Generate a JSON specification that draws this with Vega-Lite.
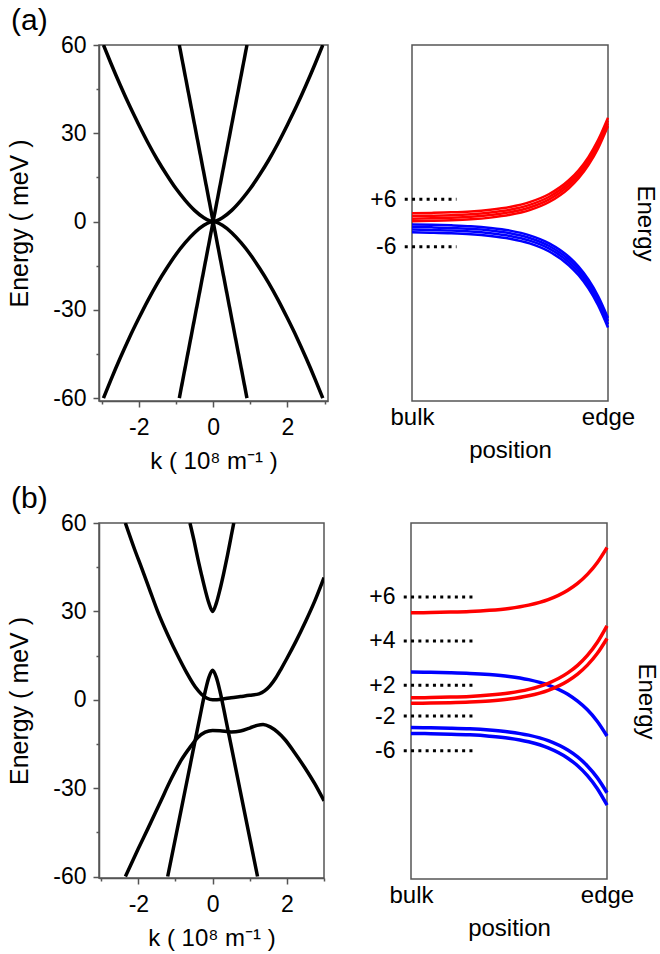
{
  "$schema": "https://vega.github.io/schema/vega-lite/v6.json",
  "padding": {"left": 7, "top": 6, "right": 12, "bottom": 0},
  "background": "white",
  "config": {
    "font": "Liberation Sans",
    "view": {"stroke": "#555", "strokeWidth": 1.5},
    "axis": {"labelFont": "Liberation Sans", "titleFont": "Liberation Sans", "labelFontSize": 23, "titleFontSize": 24, "titleFontWeight": "normal", "labelColor": "#000", "titleColor": "#000", "domainColor": "#555", "domainWidth": 1.5, "tickColor": "#555", "tickWidth": 1.5, "grid": false, "labelOverlap": false},
    "title": {"font": "Liberation Sans", "fontSize": 30, "fontWeight": "normal", "anchor": "start", "color": "#000"}
  },
  "datasets": {
    "aL": [
      {"c":"up","k":-2.95,"E":60},{"c":"up","k":-2.75,"E":53.8},{"c":"up","k":-2.5,"E":46.4},{"c":"up","k":-2.25,"E":39.4},{"c":"up","k":-2,"E":32.9},{"c":"up","k":-1.75,"E":26.7},{"c":"up","k":-1.5,"E":21},{"c":"up","k":-1.25,"E":15.9},{"c":"up","k":-1,"E":11.2},{"c":"up","k":-0.75,"E":7.2},{"c":"up","k":-0.5,"E":3.8},{"c":"up","k":-0.25,"E":1.3},{"c":"up","k":-0.1,"E":0.3},{"c":"up","k":0,"E":0},{"c":"up","k":0.1,"E":0.3},{"c":"up","k":0.25,"E":1.3},{"c":"up","k":0.5,"E":3.8},{"c":"up","k":0.75,"E":7.2},{"c":"up","k":1,"E":11.2},{"c":"up","k":1.25,"E":15.9},{"c":"up","k":1.5,"E":21},{"c":"up","k":1.75,"E":26.7},{"c":"up","k":2,"E":32.9},{"c":"up","k":2.25,"E":39.4},{"c":"up","k":2.5,"E":46.4},{"c":"up","k":2.75,"E":53.8},{"c":"up","k":2.95,"E":60},
      {"c":"dn","k":-2.95,"E":-60},{"c":"dn","k":-2.75,"E":-53.8},{"c":"dn","k":-2.5,"E":-46.4},{"c":"dn","k":-2.25,"E":-39.4},{"c":"dn","k":-2,"E":-32.9},{"c":"dn","k":-1.75,"E":-26.7},{"c":"dn","k":-1.5,"E":-21},{"c":"dn","k":-1.25,"E":-15.9},{"c":"dn","k":-1,"E":-11.2},{"c":"dn","k":-0.75,"E":-7.2},{"c":"dn","k":-0.5,"E":-3.8},{"c":"dn","k":-0.25,"E":-1.3},{"c":"dn","k":-0.1,"E":-0.3},{"c":"dn","k":0,"E":0},{"c":"dn","k":0.1,"E":-0.3},{"c":"dn","k":0.25,"E":-1.3},{"c":"dn","k":0.5,"E":-3.8},{"c":"dn","k":0.75,"E":-7.2},{"c":"dn","k":1,"E":-11.2},{"c":"dn","k":1.25,"E":-15.9},{"c":"dn","k":1.5,"E":-21},{"c":"dn","k":1.75,"E":-26.7},{"c":"dn","k":2,"E":-32.9},{"c":"dn","k":2.25,"E":-39.4},{"c":"dn","k":2.5,"E":-46.4},{"c":"dn","k":2.75,"E":-53.8},{"c":"dn","k":2.95,"E":-60},
      {"c":"l1","k":-0.91,"E":60},{"c":"l1","k":0.91,"E":-60},
      {"c":"l2","k":-0.91,"E":-60},{"c":"l2","k":0.91,"E":60}
    ],
    "bL": [
      {"c":"c1","k":-0.61,"E":60},{"c":"c1","k":-0.5,"E":54},{"c":"c1","k":-0.4,"E":48},{"c":"c1","k":-0.3,"E":42.5},{"c":"c1","k":-0.2,"E":37.3},{"c":"c1","k":-0.1,"E":32.8},{"c":"c1","k":0,"E":30},{"c":"c1","k":0.1,"E":32.8},{"c":"c1","k":0.2,"E":37.5},{"c":"c1","k":0.3,"E":43},{"c":"c1","k":0.4,"E":49},{"c":"c1","k":0.5,"E":55.5},{"c":"c1","k":0.57,"E":60},
      {"c":"c2","k":-2.35,"E":60},{"c":"c2","k":-2.1,"E":51},{"c":"c2","k":-1.92,"E":45},{"c":"c2","k":-1.7,"E":37.5},{"c":"c2","k":-1.48,"E":30},{"c":"c2","k":-1.2,"E":21.8},{"c":"c2","k":-0.9,"E":14},{"c":"c2","k":-0.7,"E":9.2},{"c":"c2","k":-0.47,"E":4.4},{"c":"c2","k":-0.3,"E":1.9},{"c":"c2","k":-0.15,"E":0.5},{"c":"c2","k":0,"E":0},{"c":"c2","k":0.25,"E":0.2},{"c":"c2","k":0.5,"E":0.7},{"c":"c2","k":0.75,"E":1.1},{"c":"c2","k":1.0,"E":1.5},{"c":"c2","k":1.25,"E":2.0},{"c":"c2","k":1.4,"E":3.0},{"c":"c2","k":1.55,"E":4.8},{"c":"c2","k":1.7,"E":7.4},{"c":"c2","k":1.85,"E":10.6},{"c":"c2","k":2.0,"E":14},{"c":"c2","k":2.25,"E":20},{"c":"c2","k":2.5,"E":26.5},{"c":"c2","k":2.75,"E":33.5},{"c":"c2","k":3.0,"E":41.5},
      {"c":"c3","k":-1.21,"E":-60},{"c":"c3","k":-0.9,"E":-40.7},{"c":"c3","k":-0.6,"E":-21.9},{"c":"c3","k":-0.35,"E":-6.3},{"c":"c3","k":-0.2,"E":2.8},{"c":"c3","k":-0.1,"E":7.6},{"c":"c3","k":0,"E":10},{"c":"c3","k":0.1,"E":7.6},{"c":"c3","k":0.2,"E":2.8},{"c":"c3","k":0.35,"E":-6.3},{"c":"c3","k":0.6,"E":-21.9},{"c":"c3","k":0.9,"E":-40.7},{"c":"c3","k":1.21,"E":-60},
      {"c":"c4","k":-2.35,"E":-60},{"c":"c4","k":-2.0,"E":-50.5},{"c":"c4","k":-1.73,"E":-43.4},{"c":"c4","k":-1.4,"E":-34.5},{"c":"c4","k":-1.1,"E":-26.5},{"c":"c4","k":-0.85,"E":-20.6},{"c":"c4","k":-0.6,"E":-16},{"c":"c4","k":-0.4,"E":-12.8},{"c":"c4","k":-0.2,"E":-11},{"c":"c4","k":0,"E":-10.4},{"c":"c4","k":0.2,"E":-10.5},{"c":"c4","k":0.5,"E":-10.9},{"c":"c4","k":0.75,"E":-10.6},{"c":"c4","k":1.0,"E":-9.6},{"c":"c4","k":1.2,"E":-8.7},{"c":"c4","k":1.36,"E":-8.4},{"c":"c4","k":1.55,"E":-9.2},{"c":"c4","k":1.75,"E":-11},{"c":"c4","k":1.94,"E":-13.4},{"c":"c4","k":2.2,"E":-17.8},{"c":"c4","k":2.48,"E":-23},{"c":"c4","k":2.75,"E":-28.5},{"c":"c4","k":3.0,"E":-34.3}
    ],
    "aR": [
      {"c":"b1","band":"valence","x":0,"E":-0.35},{"c":"b1","band":"valence","x":0.1,"E":-0.44},{"c":"b1","band":"valence","x":0.2,"E":-0.59},{"c":"b1","band":"valence","x":0.3,"E":-0.82},{"c":"b1","band":"valence","x":0.4,"E":-1.25},{"c":"b1","band":"valence","x":0.5,"E":-1.93},{"c":"b1","band":"valence","x":0.6,"E":-3.12},{"c":"b1","band":"valence","x":0.7,"E":-5.13},{"c":"b1","band":"valence","x":0.8,"E":-8.53},{"c":"b1","band":"valence","x":0.85,"E":-11.02},{"c":"b1","band":"valence","x":0.9,"E":-14.28},{"c":"b1","band":"valence","x":0.95,"E":-18.51},{"c":"b1","band":"valence","x":1,"E":-24.0},
      {"c":"b2","band":"valence","x":0,"E":-1.0},{"c":"b2","band":"valence","x":0.1,"E":-1.1},{"c":"b2","band":"valence","x":0.2,"E":-1.24},{"c":"b2","band":"valence","x":0.3,"E":-1.48},{"c":"b2","band":"valence","x":0.4,"E":-1.9},{"c":"b2","band":"valence","x":0.5,"E":-2.59},{"c":"b2","band":"valence","x":0.6,"E":-3.78},{"c":"b2","band":"valence","x":0.7,"E":-5.81},{"c":"b2","band":"valence","x":0.8,"E":-9.23},{"c":"b2","band":"valence","x":0.85,"E":-11.73},{"c":"b2","band":"valence","x":0.9,"E":-15.02},{"c":"b2","band":"valence","x":0.95,"E":-19.28},{"c":"b2","band":"valence","x":1,"E":-24.8},
      {"c":"b3","band":"valence","x":0,"E":-1.67},{"c":"b3","band":"valence","x":0.1,"E":-1.77},{"c":"b3","band":"valence","x":0.2,"E":-1.91},{"c":"b3","band":"valence","x":0.3,"E":-2.15},{"c":"b3","band":"valence","x":0.4,"E":-2.58},{"c":"b3","band":"valence","x":0.5,"E":-3.27},{"c":"b3","band":"valence","x":0.6,"E":-4.47},{"c":"b3","band":"valence","x":0.7,"E":-6.5},{"c":"b3","band":"valence","x":0.8,"E":-9.95},{"c":"b3","band":"valence","x":0.85,"E":-12.46},{"c":"b3","band":"valence","x":0.9,"E":-15.76},{"c":"b3","band":"valence","x":0.95,"E":-20.05},{"c":"b3","band":"valence","x":1,"E":-25.6},
      {"c":"b4","band":"valence","x":0,"E":-2.35},{"c":"b4","band":"valence","x":0.1,"E":-2.45},{"c":"b4","band":"valence","x":0.2,"E":-2.59},{"c":"b4","band":"valence","x":0.3,"E":-2.83},{"c":"b4","band":"valence","x":0.4,"E":-3.26},{"c":"b4","band":"valence","x":0.5,"E":-3.96},{"c":"b4","band":"valence","x":0.6,"E":-5.16},{"c":"b4","band":"valence","x":0.7,"E":-7.21},{"c":"b4","band":"valence","x":0.8,"E":-10.67},{"c":"b4","band":"valence","x":0.85,"E":-13.2},{"c":"b4","band":"valence","x":0.9,"E":-16.52},{"c":"b4","band":"valence","x":0.95,"E":-20.82},{"c":"b4","band":"valence","x":1,"E":-26.4},
      {"c":"r1","band":"conduction","x":0,"E":2.45},{"c":"r1","band":"conduction","x":0.1,"E":2.55},{"c":"r1","band":"conduction","x":0.2,"E":2.69},{"c":"r1","band":"conduction","x":0.3,"E":2.93},{"c":"r1","band":"conduction","x":0.4,"E":3.37},{"c":"r1","band":"conduction","x":0.5,"E":4.07},{"c":"r1","band":"conduction","x":0.6,"E":5.28},{"c":"r1","band":"conduction","x":0.7,"E":7.33},{"c":"r1","band":"conduction","x":0.8,"E":10.81},{"c":"r1","band":"conduction","x":0.85,"E":13.34},{"c":"r1","band":"conduction","x":0.9,"E":16.67},{"c":"r1","band":"conduction","x":0.95,"E":21.0},{"c":"r1","band":"conduction","x":1,"E":26.6},
      {"c":"r2","band":"conduction","x":0,"E":1.75},{"c":"r2","band":"conduction","x":0.1,"E":1.85},{"c":"r2","band":"conduction","x":0.2,"E":1.99},{"c":"r2","band":"conduction","x":0.3,"E":2.23},{"c":"r2","band":"conduction","x":0.4,"E":2.67},{"c":"r2","band":"conduction","x":0.5,"E":3.37},{"c":"r2","band":"conduction","x":0.6,"E":4.58},{"c":"r2","band":"conduction","x":0.7,"E":6.63},{"c":"r2","band":"conduction","x":0.8,"E":10.11},{"c":"r2","band":"conduction","x":0.85,"E":12.64},{"c":"r2","band":"conduction","x":0.9,"E":15.97},{"c":"r2","band":"conduction","x":0.95,"E":20.3},{"c":"r2","band":"conduction","x":1,"E":25.9},
      {"c":"r3","band":"conduction","x":0,"E":1.1},{"c":"r3","band":"conduction","x":0.1,"E":1.2},{"c":"r3","band":"conduction","x":0.2,"E":1.34},{"c":"r3","band":"conduction","x":0.3,"E":1.58},{"c":"r3","band":"conduction","x":0.4,"E":2.02},{"c":"r3","band":"conduction","x":0.5,"E":2.71},{"c":"r3","band":"conduction","x":0.6,"E":3.92},{"c":"r3","band":"conduction","x":0.7,"E":5.97},{"c":"r3","band":"conduction","x":0.8,"E":9.44},{"c":"r3","band":"conduction","x":0.85,"E":11.97},{"c":"r3","band":"conduction","x":0.9,"E":15.29},{"c":"r3","band":"conduction","x":0.95,"E":19.61},{"c":"r3","band":"conduction","x":1,"E":25.2},
      {"c":"r4","band":"conduction","x":0,"E":0.45},{"c":"r4","band":"conduction","x":0.1,"E":0.55},{"c":"r4","band":"conduction","x":0.2,"E":0.69},{"c":"r4","band":"conduction","x":0.3,"E":0.93},{"c":"r4","band":"conduction","x":0.4,"E":1.36},{"c":"r4","band":"conduction","x":0.5,"E":2.06},{"c":"r4","band":"conduction","x":0.6,"E":3.26},{"c":"r4","band":"conduction","x":0.7,"E":5.31},{"c":"r4","band":"conduction","x":0.8,"E":8.77},{"c":"r4","band":"conduction","x":0.85,"E":11.3},{"c":"r4","band":"conduction","x":0.9,"E":14.62},{"c":"r4","band":"conduction","x":0.95,"E":18.92},{"c":"r4","band":"conduction","x":1,"E":24.5}
    ],
    "bR": [
      {"c":"b1","band":"valence","x":0,"E":7.3},{"c":"b1","band":"valence","x":0.1,"E":7.24},{"c":"b1","band":"valence","x":0.2,"E":7.14},{"c":"b1","band":"valence","x":0.3,"E":6.98},{"c":"b1","band":"valence","x":0.4,"E":6.69},{"c":"b1","band":"valence","x":0.5,"E":6.22},{"c":"b1","band":"valence","x":0.6,"E":5.41},{"c":"b1","band":"valence","x":0.7,"E":4.04},{"c":"b1","band":"valence","x":0.8,"E":1.71},{"c":"b1","band":"valence","x":0.85,"E":-0.04},{"c":"b1","band":"valence","x":0.9,"E":-2.21},{"c":"b1","band":"valence","x":0.95,"E":-5.1},{"c":"b1","band":"valence","x":1,"E":-8.85},
      {"c":"b2","band":"valence","x":0,"E":-6.7},{"c":"b2","band":"valence","x":0.1,"E":-6.77},{"c":"b2","band":"valence","x":0.2,"E":-6.87},{"c":"b2","band":"valence","x":0.3,"E":-7.03},{"c":"b2","band":"valence","x":0.4,"E":-7.33},{"c":"b2","band":"valence","x":0.5,"E":-7.81},{"c":"b2","band":"valence","x":0.6,"E":-8.63},{"c":"b2","band":"valence","x":0.7,"E":-10.03},{"c":"b2","band":"valence","x":0.8,"E":-12.41},{"c":"b2","band":"valence","x":0.85,"E":-14.14},{"c":"b2","band":"valence","x":0.9,"E":-16.42},{"c":"b2","band":"valence","x":0.95,"E":-19.37},{"c":"b2","band":"valence","x":1,"E":-23.2},
      {"c":"b3","band":"valence","x":0,"E":-8.2},{"c":"b3","band":"valence","x":0.1,"E":-8.27},{"c":"b3","band":"valence","x":0.2,"E":-8.38},{"c":"b3","band":"valence","x":0.3,"E":-8.56},{"c":"b3","band":"valence","x":0.4,"E":-8.89},{"c":"b3","band":"valence","x":0.5,"E":-9.41},{"c":"b3","band":"valence","x":0.6,"E":-10.32},{"c":"b3","band":"valence","x":0.7,"E":-11.86},{"c":"b3","band":"valence","x":0.8,"E":-14.46},{"c":"b3","band":"valence","x":0.85,"E":-16.36},{"c":"b3","band":"valence","x":0.9,"E":-18.86},{"c":"b3","band":"valence","x":0.95,"E":-22.1},{"c":"b3","band":"valence","x":1,"E":-26.3},
      {"c":"r1","band":"conduction","x":0,"E":22.3},{"c":"r1","band":"conduction","x":0.1,"E":22.37},{"c":"r1","band":"conduction","x":0.2,"E":22.47},{"c":"r1","band":"conduction","x":0.3,"E":22.63},{"c":"r1","band":"conduction","x":0.4,"E":22.93},{"c":"r1","band":"conduction","x":0.5,"E":23.41},{"c":"r1","band":"conduction","x":0.6,"E":24.23},{"c":"r1","band":"conduction","x":0.7,"E":25.63},{"c":"r1","band":"conduction","x":0.8,"E":28.01},{"c":"r1","band":"conduction","x":0.85,"E":29.74},{"c":"r1","band":"conduction","x":0.9,"E":32.02},{"c":"r1","band":"conduction","x":0.95,"E":34.97},{"c":"r1","band":"conduction","x":1,"E":38.8},
      {"c":"r2","band":"conduction","x":0,"E":0.8},{"c":"r2","band":"conduction","x":0.1,"E":0.87},{"c":"r2","band":"conduction","x":0.2,"E":0.98},{"c":"r2","band":"conduction","x":0.3,"E":1.16},{"c":"r2","band":"conduction","x":0.4,"E":1.49},{"c":"r2","band":"conduction","x":0.5,"E":2.02},{"c":"r2","band":"conduction","x":0.6,"E":2.93},{"c":"r2","band":"conduction","x":0.7,"E":4.48},{"c":"r2","band":"conduction","x":0.8,"E":7.1},{"c":"r2","band":"conduction","x":0.85,"E":9.01},{"c":"r2","band":"conduction","x":0.9,"E":11.52},{"c":"r2","band":"conduction","x":0.95,"E":14.78},{"c":"r2","band":"conduction","x":1,"E":19.0},
      {"c":"r3","band":"conduction","x":0,"E":-0.6},{"c":"r3","band":"conduction","x":0.1,"E":-0.53},{"c":"r3","band":"conduction","x":0.2,"E":-0.44},{"c":"r3","band":"conduction","x":0.3,"E":-0.27},{"c":"r3","band":"conduction","x":0.4,"E":0.02},{"c":"r3","band":"conduction","x":0.5,"E":0.5},{"c":"r3","band":"conduction","x":0.6,"E":1.32},{"c":"r3","band":"conduction","x":0.7,"E":2.71},{"c":"r3","band":"conduction","x":0.8,"E":5.07},{"c":"r3","band":"conduction","x":0.85,"E":6.8},{"c":"r3","band":"conduction","x":0.9,"E":9.06},{"c":"r3","band":"conduction","x":0.95,"E":11.99},{"c":"r3","band":"conduction","x":1,"E":15.8}
    ],
    "aLev": [
      {"lab":"+6","x":-0.037,"x2":0.227,"E":6},
      {"lab":"-6","x":-0.037,"x2":0.227,"E":-6}
    ],
    "bLev": [
      {"lab":"+6","x":-0.037,"x2":0.328,"E":26.3},
      {"lab":"+4","x":-0.037,"x2":0.328,"E":15.2},
      {"lab":"+2","x":-0.037,"x2":0.328,"E":4.0},
      {"lab":"-2","x":-0.037,"x2":0.328,"E":-3.8},
      {"lab":"-6","x":-0.037,"x2":0.328,"E":-12.6}
    ]
  },
  "spacing": 10,
  "vconcat": [
    {
      "title": {"text": "(a)", "offset": -3, "dx": 4},
      "spacing": 40,
      "hconcat": [
        {
          "width": 229, "height": 356,
          "data": {"name": "aL"},
          "layer": [
            {
              "mark": {"type": "line", "color": "#000", "strokeWidth": 3.5, "interpolate": "monotone", "clip": true},
              "encoding": {
                "x": {"field": "k", "type": "quantitative", "scale": {"domain": [-3.07, 3.09], "nice": false, "zero": false}, "axis": {"orient": "bottom", "values": [-2, 0, 2], "labelExpr": "datum.value < 0 ? '-' + abs(datum.value) : '' + datum.value", "tickSize": 6, "labelPadding": 9, "title": "k ( 10⁸ m⁻¹ )", "titlePadding": 10}},
                "y": {"field": "E", "type": "quantitative", "scale": {"domain": [-61, 60], "nice": false, "zero": false}, "axis": {"orient": "left", "values": [-60, -30, 0, 30, 60], "labelExpr": "datum.value < 0 ? '-' + abs(datum.value) : '' + datum.value", "tickSize": 6, "labelPadding": 7, "title": "Energy ( meV )", "titleFontSize": 25, "titlePadding": 20}},
                "detail": {"field": "c"}
              }
            },
            {
              "mark": {"type": "point", "opacity": 0},
              "encoding": {
                "x": {"field": "k", "type": "quantitative", "axis": {"orient": "bottom", "values": [-3, -1, 1, 3], "tickSize": 3, "labels": false, "domain": false, "title": null}},
                "y": {"field": "E", "type": "quantitative", "axis": {"orient": "left", "values": [-45, -15, 15, 45], "tickSize": 3, "labels": false, "domain": false, "title": null}}
              }
            }
          ],
          "resolve": {"axis": {"x": "independent", "y": "independent"}}
        },
        {
          "width": 196, "height": 356,
          "layer": [
            {
              "data": {"name": "aR"},
              "mark": {"type": "line", "strokeWidth": 2.5, "interpolate": "monotone"},
              "encoding": {
                "x": {"field": "x", "type": "quantitative", "title": "position", "scale": {"domain": [0, 1], "nice": false, "zero": false}, "axis": {"values": [0, 1], "labelExpr": "datum.value == 0 ? 'bulk' : 'edge'", "labelFontSize": 24, "labelFlush": false, "tickSize": 0, "ticks": false, "domain": false, "labelPadding": 4, "titlePadding": 9}},
                "y": {"field": "E", "type": "quantitative", "scale": {"domain": [-45, 45], "nice": false, "zero": false}, "axis": {"orient": "left", "values": [6, -6], "labelExpr": "datum.value > 0 ? '+6' : '-6'", "tickSize": 0, "ticks": false, "domain": false, "labelPadding": 16, "title": null}},
                "color": {"field": "band", "type": "nominal", "scale": {"domain": ["conduction", "valence"], "range": ["#ff0000", "#0000ff"]}, "legend": null},
                "detail": {"field": "c"}
              }
            },
            {
              "data": {"name": "aLev"},
              "mark": {"type": "rule", "strokeWidth": 3, "strokeDash": [3, 4.3], "color": "#000"},
              "encoding": {
                "x": {"field": "x", "type": "quantitative", "title": "position"},
                "x2": {"field": "x2"},
                "y": {"field": "E", "type": "quantitative", "axis": {"orient": "right", "title": "Energy", "labels": false, "ticks": false, "domain": false, "titlePadding": 24}}
              }
            }
          ],
          "resolve": {"axis": {"y": "independent"}}
        }
      ]
    },
    {
      "title": {"text": "(b)", "offset": -3, "dx": 4},
      "spacing": 40,
      "hconcat": [
        {
          "width": 225, "height": 355,
          "data": {"name": "bL"},
          "layer": [
            {
              "mark": {"type": "line", "color": "#000", "strokeWidth": 3.5, "interpolate": "monotone", "clip": true},
              "encoding": {
                "x": {"field": "k", "type": "quantitative", "scale": {"domain": [-3.06, 3.0], "nice": false, "zero": false}, "axis": {"orient": "bottom", "values": [-2, 0, 2], "labelExpr": "datum.value < 0 ? '-' + abs(datum.value) : '' + datum.value", "tickSize": 6, "labelPadding": 9, "title": "k ( 10⁸ m⁻¹ )", "titlePadding": 10}},
                "y": {"field": "E", "type": "quantitative", "scale": {"domain": [-60.5, 60], "nice": false, "zero": false}, "axis": {"orient": "left", "values": [-60, -30, 0, 30, 60], "labelExpr": "datum.value < 0 ? '-' + abs(datum.value) : '' + datum.value", "tickSize": 6, "labelPadding": 7, "title": "Energy ( meV )", "titleFontSize": 25, "titlePadding": 20}},
                "detail": {"field": "c"}
              }
            },
            {
              "mark": {"type": "point", "opacity": 0},
              "encoding": {
                "x": {"field": "k", "type": "quantitative", "axis": {"orient": "bottom", "values": [-3, -1, 1, 3], "tickSize": 3, "labels": false, "domain": false, "title": null}},
                "y": {"field": "E", "type": "quantitative", "axis": {"orient": "left", "values": [-45, -15, 15, 45], "tickSize": 3, "labels": false, "domain": false, "title": null}}
              }
            }
          ],
          "resolve": {"axis": {"x": "independent", "y": "independent"}}
        },
        {
          "width": 196, "height": 356,
          "layer": [
            {
              "data": {"name": "bR"},
              "mark": {"type": "line", "strokeWidth": 3.5, "interpolate": "monotone"},
              "encoding": {
                "x": {"field": "x", "type": "quantitative", "title": "position", "scale": {"domain": [0, 1], "nice": false, "zero": false}, "axis": {"values": [0, 1], "labelExpr": "datum.value == 0 ? 'bulk' : 'edge'", "labelFontSize": 24, "labelFlush": false, "tickSize": 0, "ticks": false, "domain": false, "labelPadding": 4, "titlePadding": 9}},
                "y": {"field": "E", "type": "quantitative", "scale": {"domain": [-45, 45], "nice": false, "zero": false}, "axis": {"orient": "left", "values": [26.3, 15.2, 4.0, -3.8, -12.6], "labelExpr": "datum.value > 20 ? '+6' : datum.value > 10 ? '+4' : datum.value > 0 ? '+2' : datum.value > -8 ? '-2' : '-6'", "tickSize": 0, "ticks": false, "domain": false, "labelPadding": 16, "title": null}},
                "color": {"field": "band", "type": "nominal", "scale": {"domain": ["conduction", "valence"], "range": ["#ff0000", "#0000ff"]}, "legend": null},
                "detail": {"field": "c"}
              }
            },
            {
              "data": {"name": "bLev"},
              "mark": {"type": "rule", "strokeWidth": 3, "strokeDash": [3, 4.3], "color": "#000"},
              "encoding": {
                "x": {"field": "x", "type": "quantitative", "title": "position"},
                "x2": {"field": "x2"},
                "y": {"field": "E", "type": "quantitative", "axis": {"orient": "right", "title": "Energy", "labels": false, "ticks": false, "domain": false, "titlePadding": 26}}
              }
            }
          ],
          "resolve": {"axis": {"y": "independent"}}
        }
      ]
    }
  ]
}
